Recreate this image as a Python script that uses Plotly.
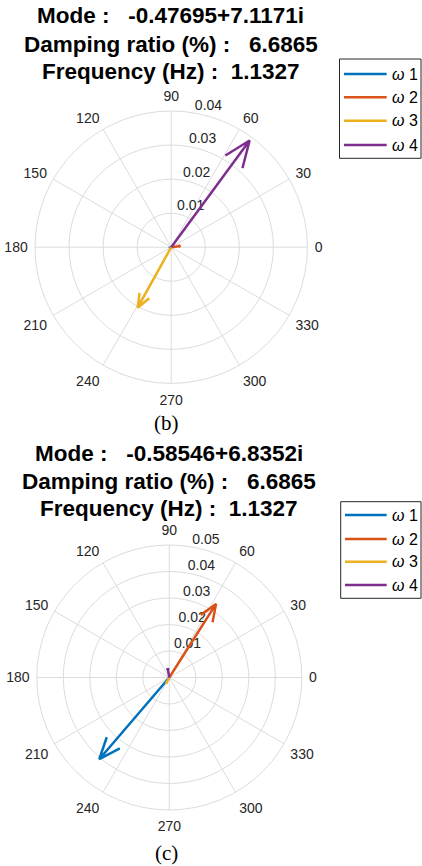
import math
import plotly.graph_objects as go

W, H = 422, 866

# ---------------- data ----------------
series_names = ["ω 1", "ω 2", "ω 3", "ω 4"]
colors = ["#0072BD", "#D95319", "#EDB120", "#7E2F8E"]

# panel (b): magnitudes and angles (deg)
b_mag = [0.0006, 0.0027, 0.0203, 0.0389]
b_ang = [200, 8, 241, 53.7]
# panel (c)
c_mag = [0.0406, 0.0329, 0.0025, 0.0035]
c_ang = [229.4, 57.6, 242, 100]

angle_ticks = list(range(0, 360, 30))
b_rticks = [0.01, 0.02, 0.03, 0.04]
c_rticks = [0.01, 0.02, 0.03, 0.04, 0.05]

b_title = ["Mode :\u00a0\u00a0\u00a0-0.47695+7.1171i",
           "Damping ratio (%) :\u00a0\u00a0\u00a06.6865",
           "Frequency (Hz) :\u00a0\u00a01.1327"]
c_title = ["Mode :\u00a0\u00a0\u00a0-0.58546+6.8352i",
           "Damping ratio (%) :\u00a0\u00a0\u00a06.6865",
           "Frequency (Hz) :\u00a0\u00a01.1327"]
captions = ["(b)", "(c)"]

FONT = "Arial, Liberation Sans, sans-serif"
GRID = "#dcdcdc"
TICK_C = "#262626"


def arrow_path(m, a):
    # MATLAB compass style arrow: 0 -> tip -> barb -> tip -> barb
    br = m * math.sqrt(0.8 ** 2 + 0.08 ** 2)
    da = math.degrees(math.atan2(0.08, 0.8))
    r = [0, m, br, m, br]
    t = [a, a, a + da, a, a - da]
    return r, t


fig = go.Figure()
for pi, (mags, angs, rt) in enumerate([(b_mag, b_ang, b_rticks), (c_mag, c_ang, c_rticks)]):
    sub = "polar" if pi == 0 else "polar2"
    # radial tick labels, MATLAB style at 80 degrees
    fig.add_trace(go.Scatterpolar(
        r=rt, theta=[80] * len(rt), mode="text",
        text=[f"{v:.2f}" for v in rt], textposition="top right",
        textfont=dict(family=FONT, size=14, color=TICK_C),
        subplot=sub, showlegend=False, hoverinfo="skip"))
    for i in range(4):
        r, t = arrow_path(mags[i], angs[i])
        fig.add_trace(go.Scatterpolar(
            r=r, theta=t, mode="lines",
            line=dict(color=colors[i], width=2.5),
            name=series_names[i],
            subplot=sub, showlegend=False,
            hoverinfo="skip"))


def polar_layout(domx, domy, rmax, rticks):
    return dict(
        domain=dict(x=domx, y=domy),
        bgcolor="white",
        angularaxis=dict(
            direction="counterclockwise", rotation=0,
            tickmode="array", tickvals=angle_ticks,
            ticktext=[str(v) for v in angle_ticks],
            ticks="outside", ticklen=4, tickcolor="rgba(0,0,0,0)",
            showline=True, linecolor=GRID, linewidth=1,
            gridcolor=GRID, gridwidth=1,
            tickfont=dict(family=FONT, size=14, color=TICK_C)),
        radialaxis=dict(
            range=[0, rmax], tickmode="array", tickvals=rticks,
            showticklabels=False,
            angle=80, showline=False, ticks="",
            gridcolor=GRID, gridwidth=1),
    )


fig.update_layout(
    width=W, height=H,
    margin=dict(l=0, r=0, t=0, b=0),
    paper_bgcolor="white", plot_bgcolor="white",
    font=dict(family=FONT, color="#000000"),
    showlegend=False,
    polar=polar_layout([35.0 / W, 307.4 / W], [1 - 383.4 / H, 1 - 111.0 / H], 0.04, b_rticks),
    polar2=polar_layout([36.8 / W, 301.8 / W], [1 - 810.0 / H, 1 - 545.0 / H], 0.05, c_rticks),
)

annotations = []
shapes = []
b_ys = [15.7, 45.0, 71.7]
c_ys = [453.3, 481.0, 508.3]
for txt, yy in zip(b_title, b_ys):
    annotations.append(dict(text="<b>" + txt + "</b>", x=170.5 / W, y=1 - yy / H,
                            xref="paper", yref="paper", showarrow=False,
                            xanchor="center", yanchor="middle",
                            font=dict(family=FONT, size=22.5, color="#000000")))
for txt, yy in zip(c_title, c_ys):
    annotations.append(dict(text="<b>" + txt + "</b>", x=169.0 / W, y=1 - yy / H,
                            xref="paper", yref="paper", showarrow=False,
                            xanchor="center", yanchor="middle",
                            font=dict(family=FONT, size=22.5, color="#000000")))
for cap, cx, cy in zip(captions, [166, 166], [423, 853]):
    annotations.append(dict(text=cap, x=cx / W, y=1 - cy / H, xref="paper", yref="paper",
                            showarrow=False, xanchor="center", yanchor="middle",
                            font=dict(family="Liberation Serif, Times New Roman, serif",
                                      size=21, color="#000000")))

# legends (drawn as boxes with sample lines and labels)
legend_specs = [
    dict(x0=339.5, x1=421.0, y0=59.0, y1=158.3, lx0=344.0, lx1=386.7, ys=[74.0, 97.3, 120.7, 145.0]),
    dict(x0=340.7, x1=421.0, y0=501.7, y1=598.3, lx0=345.0, lx1=386.7, ys=[515.0, 539.0, 561.7, 585.0]),
]
for spec in legend_specs:
    shapes.append(dict(type="rect", xref="paper", yref="paper",
                       x0=spec["x0"] / W, x1=spec["x1"] / W,
                       y0=1 - spec["y1"] / H, y1=1 - spec["y0"] / H,
                       line=dict(color="#262626", width=1), fillcolor="white", layer="above"))
    for i, yy in enumerate(spec["ys"]):
        shapes.append(dict(type="line", xref="paper", yref="paper",
                           x0=spec["lx0"] / W, x1=spec["lx1"] / W,
                           y0=1 - yy / H, y1=1 - yy / H,
                           line=dict(color=colors[i], width=2.5), layer="above"))
        annotations.append(dict(text="<i>ω</i> " + series_names[i].split()[1],
                                x=(spec["lx1"] + 3.5) / W, y=1 - yy / H,
                                xref="paper", yref="paper", showarrow=False,
                                xanchor="left", yanchor="middle",
                                font=dict(family=FONT, size=16, color="#000000")))

fig.update_layout(annotations=annotations, shapes=shapes)

fig.write_html("out.html")
